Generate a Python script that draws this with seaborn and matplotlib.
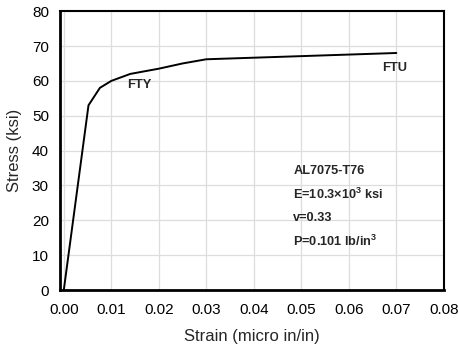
import matplotlib
matplotlib.use("Agg")
import matplotlib.pyplot as plt
import pandas as pd
import seaborn as sns

strain = [0.0, 0.0052, 0.0076, 0.010, 0.014, 0.020, 0.025, 0.030, 0.070]
stress = [0.0, 53.0, 58.0, 60.0, 62.0, 63.5, 65.0, 66.2, 68.0]
x_ticks = [0.00, 0.01, 0.02, 0.03, 0.04, 0.05, 0.06, 0.07, 0.08]
y_ticks = [0, 10, 20, 30, 40, 50, 60, 70, 80]
props = ["AL7075-T76", "E=10.3\u00d710$^{\\mathbf{3}}$ ksi", "v=0.33", "P=0.101 lb/in$^{\\mathbf{3}}$"]

df = pd.DataFrame({"strain": strain, "stress": stress})

sns.set_theme(style="whitegrid")
plt.rcParams["font.family"] = ["Liberation Sans", "DejaVu Sans"]
plt.rcParams["mathtext.fontset"] = "custom"
plt.rcParams["mathtext.rm"] = "Liberation Sans"
plt.rcParams["mathtext.bf"] = "Liberation Sans:bold"

fig = plt.figure(figsize=(4.59, 3.49), dpi=100)
ax = fig.add_axes([0.1307, 0.169, 0.8363, 0.799])

sns.lineplot(data=df, x="strain", y="stress", ax=ax, color="black", linewidth=1.4, sort=False)

ax.set_xlim(-0.0008, 0.08)
ax.set_ylim(0, 80)
ax.set_xticks(x_ticks)
ax.set_xticklabels([f"{v:.2f}" for v in x_ticks])
ax.set_yticks(y_ticks)
ax.tick_params(axis="x", labelsize=11, length=0, pad=9, colors="black")
ax.tick_params(axis="y", labelsize=11, length=0, pad=8, colors="black")
ax.grid(True, color="#dddddd", linewidth=0.9)
for side, sp in ax.spines.items():
    sp.set_color("black")
    sp.set_linewidth(2.0 if side in ("left", "bottom") else 1.5)

ax.set_xlabel("Strain (micro in/in)", fontsize=12, labelpad=9)
ax.set_ylabel("Stress (ksi)", fontsize=12, labelpad=7)

ax.text(0.016, 58.7, "FTY", fontsize=9.3, fontweight="bold", ha="center", va="center")
ax.text(0.0697, 63.6, "FTU", fontsize=9.3, fontweight="bold", ha="center", va="center")
for i, s in enumerate(props):
    ax.text(0.0483, 34.2 - i * 6.75, s, fontsize=9.2, fontweight="bold", ha="left", va="center")

fig.savefig("out.png", dpi=100)
